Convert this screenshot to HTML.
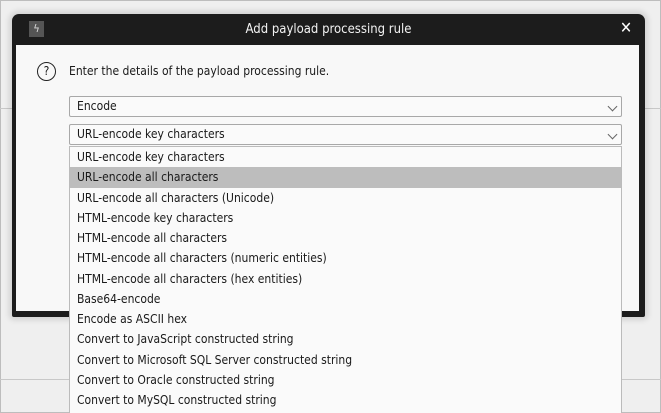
<!DOCTYPE html>
<html><head><style>
*{margin:0;padding:0;box-sizing:border-box}
body{width:661px;height:413px;background:#efefef;position:relative;overflow:hidden;font-family:"DejaVu Sans Condensed","Liberation Sans",sans-serif;color:#1a1a1a}
.frame{position:absolute;left:0;top:0;width:661px;height:413px;border:1px solid #bdbdbd}
.hl{position:absolute;left:0;width:661px;height:1px;background:#c8c8c8}
.dlg{position:absolute;left:12px;top:14px;width:633px;height:303px;background:#1c1c1c;border-radius:7px 7px 2px 2px;box-shadow:0 0 6px 3px rgba(0,0,0,0.12)}
.inner{position:absolute;left:16px;top:45px;width:623px;height:266px;background:#f8f8f8}
.title{position:absolute;left:12px;top:14px;width:633px;height:31px;color:#f2f2f2;font-size:13px;text-align:center;line-height:31px}
.icon{position:absolute;left:29px;top:21px;width:15px;height:16px;background:#555;color:#ddd;font-size:11px;text-align:center;line-height:16px}
.x{position:absolute;left:620px;top:18px;color:#fff;font-size:16px;font-weight:bold}
.q{position:absolute;left:37px;top:62px;width:19px;height:19px;border:1.5px solid #222;border-radius:50%;font-size:12px;text-align:center;line-height:16px}
.lbl{position:absolute;left:69px;top:64px;font-size:12px}
.sel{position:absolute;left:69px;width:553px;height:21px;border:1px solid #a8a8a8;border-radius:2px;background:#fafafa;font-size:12px;line-height:19px;padding-left:7px}
.chev{position:absolute;right:5px;top:6px;width:7px;height:7px;border-right:1.3px solid #666;border-bottom:1.3px solid #666;transform:rotate(45deg)}
.list{position:absolute;left:69px;top:146px;width:553px;height:267px;background:#fafafa;border:1px solid #bbb;border-bottom:none}
.it{height:20.25px;line-height:20px;padding-left:7px;font-size:12px}
.hi{background:#bdbdbd}
</style></head><body>
<div class="frame"></div>
<div class="hl" style="top:108px"></div>
<div class="hl" style="top:379px"></div>
<div class="dlg"></div>
<div class="inner"></div>
<div class="title">Add payload processing rule</div>
<div class="icon">ϟ</div>
<div class="x">✕</div>
<div class="q">?</div>
<div class="lbl">Enter the details of the payload processing rule.</div>
<div class="sel" style="top:96px">Encode<div class="chev"></div></div>
<div class="sel" style="top:124px">URL-encode key characters<div class="chev"></div></div>
<div class="list">
<div class="it">URL-encode key characters</div>
<div class="it hi">URL-encode all characters</div>
<div class="it">URL-encode all characters (Unicode)</div>
<div class="it">HTML-encode key characters</div>
<div class="it">HTML-encode all characters</div>
<div class="it">HTML-encode all characters (numeric entities)</div>
<div class="it">HTML-encode all characters (hex entities)</div>
<div class="it">Base64-encode</div>
<div class="it">Encode as ASCII hex</div>
<div class="it">Convert to JavaScript constructed string</div>
<div class="it">Convert to Microsoft SQL Server constructed string</div>
<div class="it">Convert to Oracle constructed string</div>
<div class="it">Convert to MySQL constructed string</div>
</div>
</body></html>
